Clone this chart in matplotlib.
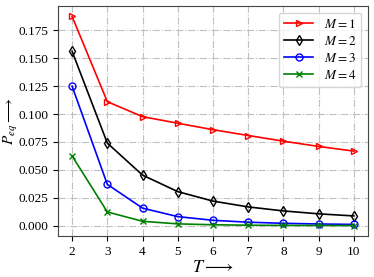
import numpy as np
import matplotlib
matplotlib.use("Agg")
import matplotlib.pyplot as plt

plt.rcParams['font.family'] = ['Liberation Serif', 'DejaVu Serif']
plt.rcParams['mathtext.fontset'] = 'stix'

T = [2, 3, 4, 5, 6, 7, 8, 9, 10]
p_m1 = [0.1875, 0.1111, 0.0977, 0.0918, 0.0860, 0.0808, 0.0757, 0.0710, 0.0668]
p_m2 = [0.15625, 0.0740, 0.0453, 0.0305, 0.0220, 0.0168, 0.0132, 0.0106, 0.0087]
p_m3 = [0.125, 0.0370, 0.0157, 0.0081, 0.0048, 0.0031, 0.0021, 0.0015, 0.0011]
p_m4 = [0.0625, 0.0123, 0.0039, 0.0016, 0.0008, 0.0004, 0.00025, 0.00015, 0.0001]
yticks = [0.0, 0.025, 0.05, 0.075, 0.1, 0.125, 0.15, 0.175]

fig = plt.figure(figsize=(3.74, 2.77), dpi=100)
ax = fig.add_axes([58/374, 1-236/277, 310/374, 230/277])

ax.plot(T, p_m1, color='red', marker='>', mfc='none', ms=5, lw=1.2, label='$M=1$')
ax.plot(T, p_m2, color='black', marker='d', mfc='none', ms=5, lw=1.2, label='$M=2$')
ax.plot(T, p_m3, color='blue', marker='o', mfc='none', ms=5, lw=1.2, label='$M=3$')
ax.plot(T, p_m4, color='green', marker='x', ms=5, lw=1.2, label='$M=4$')

ax.set_xticks(T)
ax.set_yticks(yticks)
ax.set_yticklabels(['%.3f' % v for v in yticks])
ax.grid(True, ls='-.', color='#c0c0c0', lw=0.8)
for s in ax.spines.values():
    s.set_color('#444444')
ax.tick_params(labelsize=9.5)
ax.set_xlabel(r'$T\longrightarrow$', fontsize=13, labelpad=1)
ax.set_ylabel(r'$P_{eq}\longrightarrow$', fontsize=11)
ax.yaxis.set_label_coords(-0.122, 0.5)
ax.legend(loc='upper right', fontsize=9.5, labelspacing=0.3, handlelength=2.2)

fig.savefig('out.png', dpi=100)
